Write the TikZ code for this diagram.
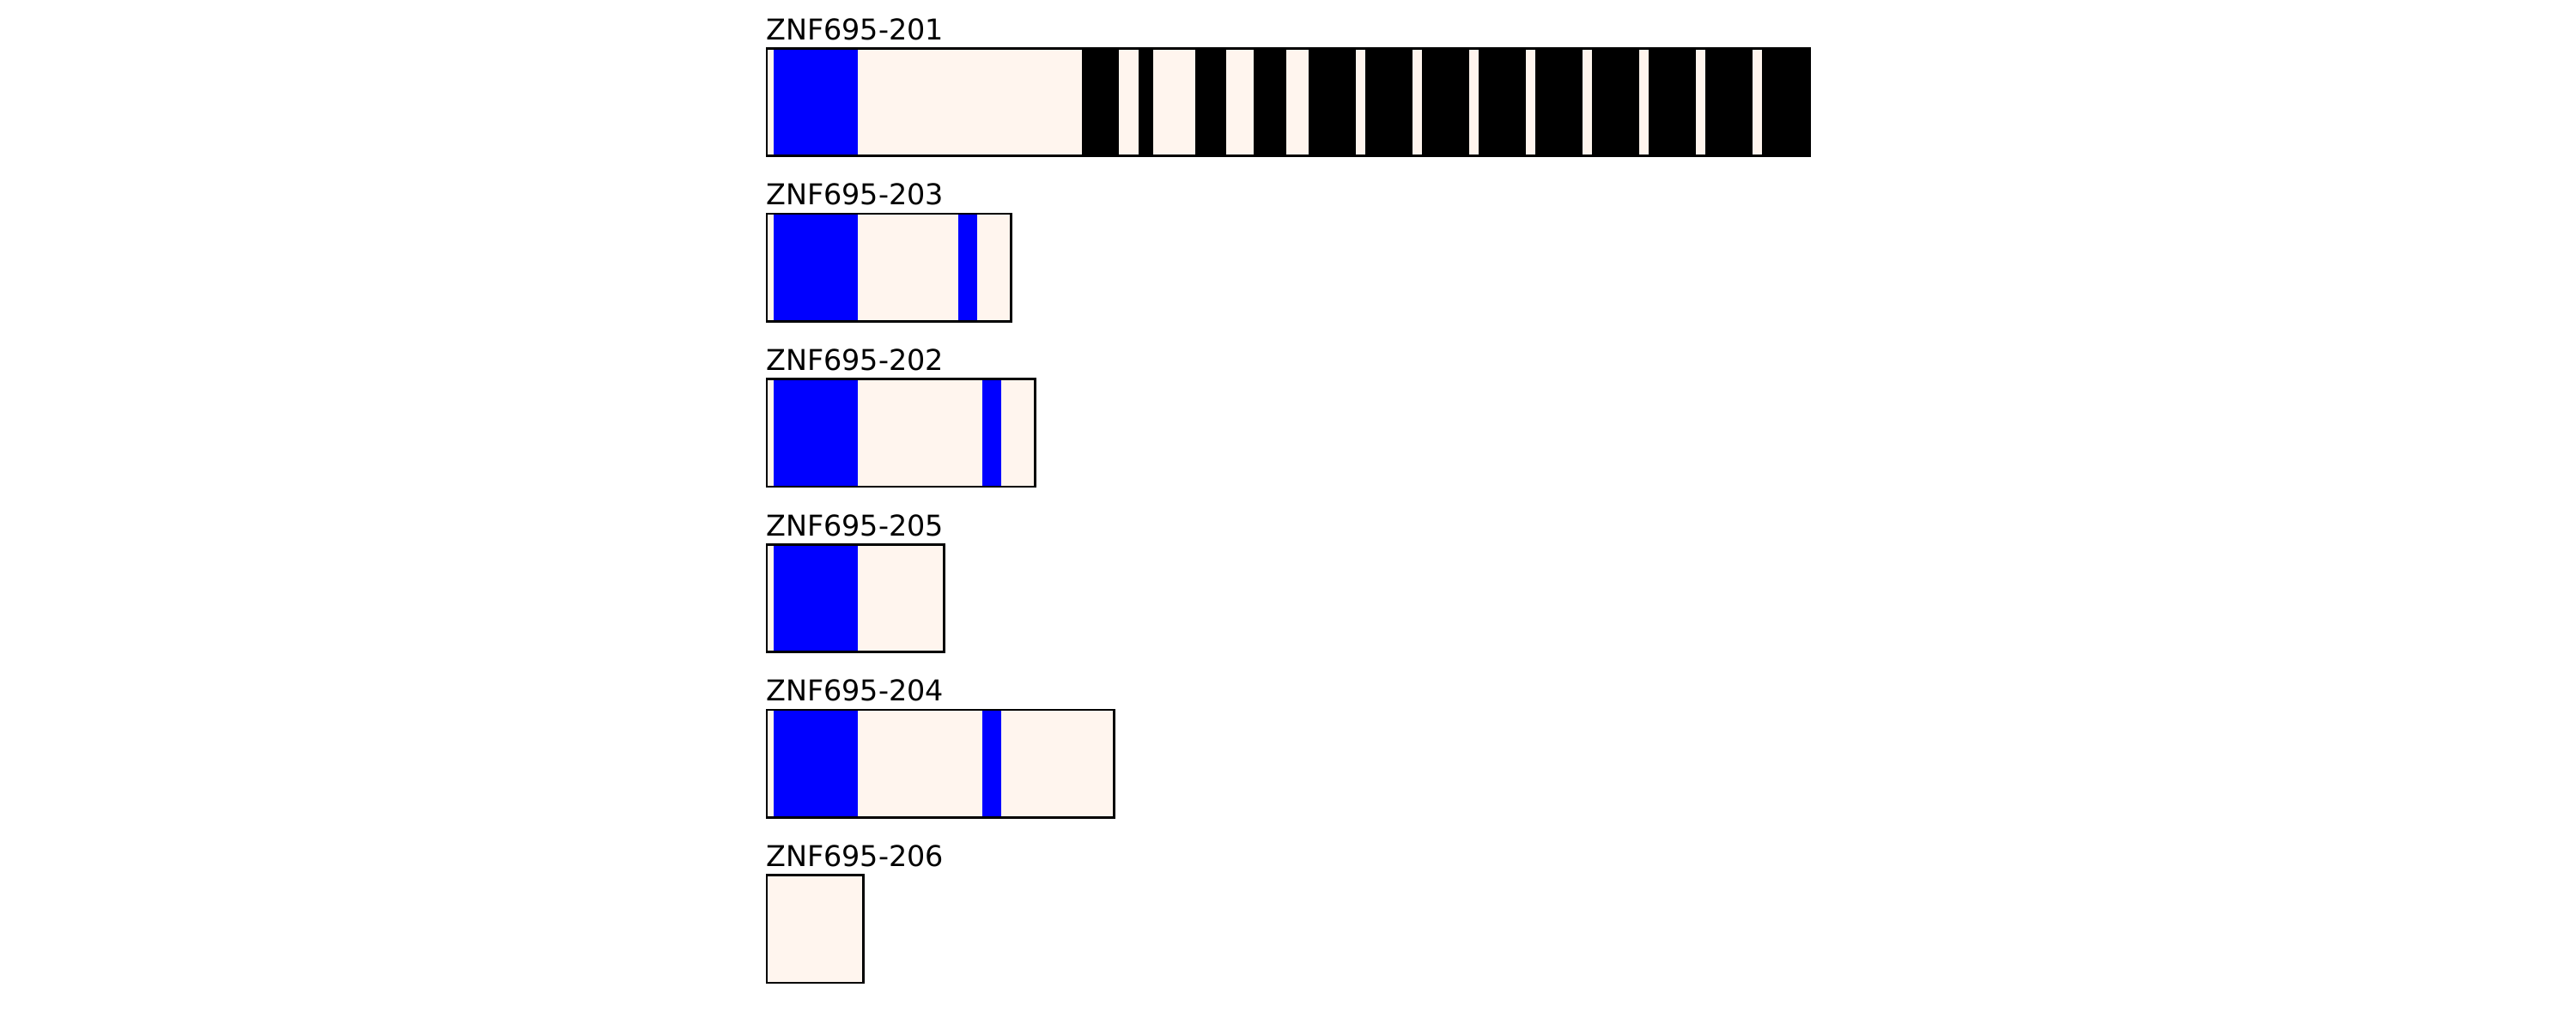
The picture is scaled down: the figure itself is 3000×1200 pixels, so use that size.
\documentclass[tikz,border=0pt]{standalone}
\usepackage{fontspec}
\setmainfont{DejaVu Sans}
\usetikzlibrary{positioning}
\definecolor{utrfill}{HTML}{FFF5EE}
\definecolor{cdsfill}{HTML}{0000FF}

\begin{document}
\begin{tikzpicture}[
  x=0.01cm, y=-0.01cm,
  utr/.style={fill=utrfill},
  cds/.style={fill=cdsfill},
  nmd/.style={fill=black},
  frame/.style={draw=black, line width=0.75pt},
  tname/.style={anchor=base west, inner sep=0pt, font=\fontsize{9.5}{11}\selectfont}
]
\useasboundingbox (0,0) rectangle (3000,1200);

% ZNF695-201
\node[tname] (l201) at (891.5,46) {ZNF695-201};
\fill[utr] (893,56.3) rectangle (2107.5,181.8);
\fill[cds] (901,56.3) rectangle (999,181.8);
\foreach \a/\b in {1260.3/1303, 1326.3/1343, 1392.3/1427.7, 1460.3/1497.7,
                   1524.3/1579, 1590/1645, 1656/1710.7, 1722/1777, 1788/1843,
                   1854/1908.7, 1920.3/1975, 1986.3/2041, 2052.3/2107.5}
  \fill[nmd] (\a,56.3) rectangle (\b,181.8);
\draw[frame] (893,56.3) rectangle (2107.5,181.8);

% ZNF695-203
\node[tname] (l203) at (891.5,238.7) {ZNF695-203};
\fill[utr] (893,249) rectangle (1177.7,374.5);
\fill[cds] (901,249) rectangle (999,374.5);
\fill[cds] (1116,249) rectangle (1137.7,374.5);
\draw[frame] (893,249) rectangle (1177.7,374.5);

% ZNF695-202
\node[tname] (l202) at (891.5,431.3) {ZNF695-202};
\fill[utr] (893,441.6) rectangle (1205.7,567.1);
\fill[cds] (901,441.6) rectangle (999,567.1);
\fill[cds] (1144,441.6) rectangle (1165.7,567.1);
\draw[frame] (893,441.6) rectangle (1205.7,567.1);

% ZNF695-205
\node[tname] (l205) at (891.5,624) {ZNF695-205};
\fill[utr] (893,634.3) rectangle (1099.4,759.8);
\fill[cds] (901,634.3) rectangle (999,759.8);
\draw[frame] (893,634.3) rectangle (1099.4,759.8);

% ZNF695-204
\node[tname] (l204) at (891.5,816.7) {ZNF695-204};
\fill[utr] (893,827) rectangle (1297.4,952.5);
\fill[cds] (901,827) rectangle (999,952.5);
\fill[cds] (1144,827) rectangle (1165.7,952.5);
\draw[frame] (893,827) rectangle (1297.4,952.5);

% ZNF695-206
\node[tname] (l206) at (891.5,1009.3) {ZNF695-206};
\fill[utr] (893,1019.6) rectangle (1005.4,1145.1);
\draw[frame] (893,1019.6) rectangle (1005.4,1145.1);

\end{tikzpicture}
\end{document}
